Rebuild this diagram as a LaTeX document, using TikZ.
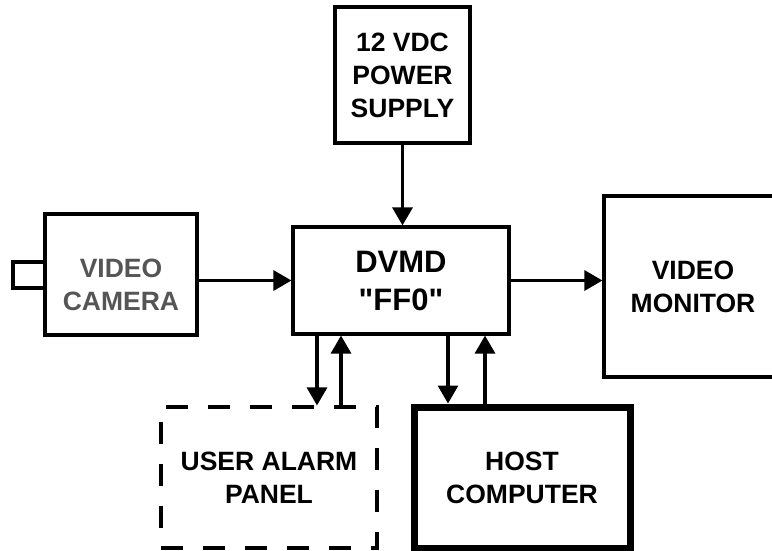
\documentclass[tikz,border=0pt]{standalone}
\usepackage{fontspec}
\setmainfont{Liberation Sans}
\newfontfamily\straightfont{Liberation Sans}
\usepackage{xcolor}
\usetikzlibrary{positioning, arrows.meta}
\definecolor{camgray}{HTML}{555555}

\begin{document}
\begin{tikzpicture}[x=1pt, y=-1pt]
	\tikzset{arrow/.style={-{Triangle[length=18pt, width=20pt]}, line width=3.1pt}}
	\tikzset{block/.style={draw, rectangle, line width=3.1pt, inner sep=0pt}}
	\tikzset{label text/.style={align=center, font=\fontsize{26.5}{33}\selectfont\bfseries}}

	\useasboundingbox (0,0) rectangle (772,550);
	\clip (0,0) rectangle (772,550);

	% Power supply
	\node (power) [block, label text, minimum width=135pt, minimum height=136pt] at (402.5,75) {12 VDC\\POWER\\SUPPLY};

	% DVMD
	\node (dvmd) [block, minimum width=216pt, minimum height=107pt, align=center, font=\straightfont\fontsize{31}{38}\selectfont\bfseries] at (401,280.5) {DVMD\\"FF0"};

	% Camera
	\node (lens) [block, minimum width=32pt, minimum height=26pt] at (29,275) {};
	\node (camera) [block, fill=white, minimum width=152pt, minimum height=121pt] at (121,274.5) {};
	\node (camtext) [label text, text=camgray, yshift=-10pt] at (camera.center) {VIDEO\\CAMERA};

	% Monitor
	\node (monitor) [block, label text, minimum width=178pt, minimum height=181pt] at (693,286.5) {VIDEO\\MONITOR};

	% Alarm panel and host
	\node (alarm) [block, label text, dash pattern=on 22pt off 20pt, minimum width=216pt, minimum height=141pt] at (269,477.5) {USER ALARM\\PANEL};
	\node (host) [block, label text, line width=7pt, minimum width=216pt, minimum height=141pt] at (522,477.5) {HOST\\COMPUTER};

	% Connections
	\draw [arrow] (power.south) -- (power.south |- dvmd.north);
	\draw [arrow] (camera.east |- dvmd.west) -- (dvmd.west);
	\draw [arrow] (dvmd.east) -- (dvmd.east -| monitor.west);

	\draw [arrow] ([xshift=-84pt]dvmd.south) -- ([xshift=-84pt]dvmd.south |- alarm.north);
	\draw [arrow] ([xshift=-60pt]dvmd.south |- alarm.north) -- ([xshift=-60pt]dvmd.south);
	\draw [arrow] ([xshift=47pt]dvmd.south) -- ([xshift=47pt]dvmd.south |- host.north);
	\draw [arrow] ([xshift=84pt]dvmd.south |- host.north) -- ([xshift=84pt]dvmd.south);
\end{tikzpicture}
\end{document}
